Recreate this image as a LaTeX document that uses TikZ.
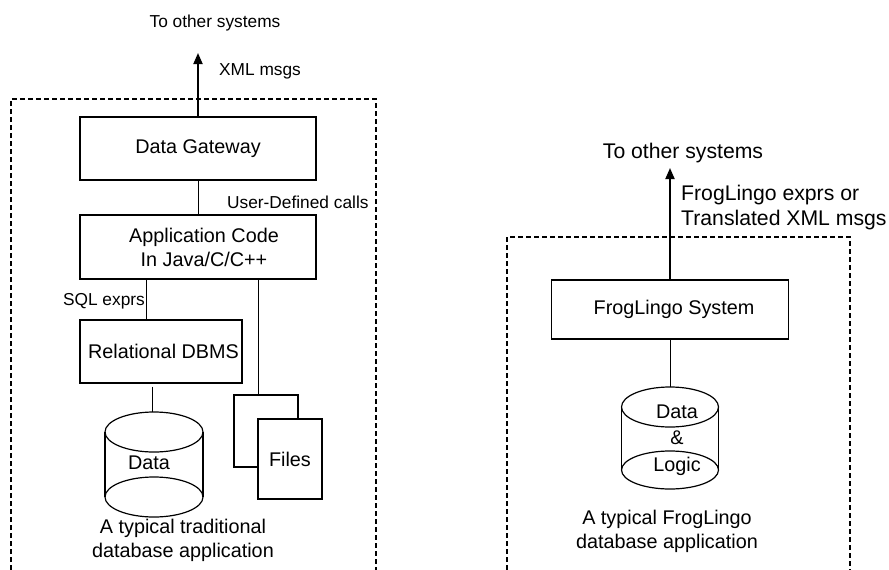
\documentclass[tikz,border=0pt]{standalone}
\usepackage{fontspec}
\setmainfont{Liberation Sans}
\usetikzlibrary{arrows.meta,positioning}

\begin{document}
\begin{tikzpicture}[x=1pt,y=-1pt,
    box/.style={draw,line width=1.2pt,inner sep=0pt,align=center,font=\fontsize{19.8}{24}\selectfont},
    lbl/.style={inner sep=0pt,font=\fontsize{17.3}{21}\selectfont},
    biglbl/.style={inner sep=0pt,align=left,font=\fontsize{21.2}{25}\selectfont},
    captext/.style={inner sep=0pt,align=center,font=\fontsize{19.8}{24}\selectfont},
    link/.style={line width=0.8pt},
    drum/.style={line width=1.2pt},
    outarrow/.style={line width=1.8pt,-{Triangle[width=9pt,length=11pt]}},
    border/.style={line width=1.1pt,dash pattern=on 5pt off 3pt}]
    \useasboundingbox (0,0) rectangle (889,570);

    \draw[border] (11,570) -- (11,99) -- (376,99) -- (376,570);
    \node[box,minimum width=236,minimum height=63] (gw) at (198,148.5) {Data Gateway};
    \node[box,minimum width=236,minimum height=64] (app) at (198,247) {\hspace*{12pt}Application Code\\\hspace*{12pt}In Java/C/C++};
    \node[box,minimum width=162,minimum height=63] (rdbms) at (161,351.5) {\hspace*{5pt}Relational DBMS};
    \node[box,minimum width=64,minimum height=72] (fileb) at (266,431) {};
    \node[box,fill=white,minimum width=64,minimum height=80] (files) at (290,459) {Files};
    \node[captext] (data) at (149,463) {Data};
    \draw[drum] (105,432) -- (105,497) (203,432) -- (203,497);
    \draw[drum] (154,432) ellipse [x radius=49,y radius=20];
    \draw[drum] (154,497) ellipse [x radius=49,y radius=20];

    \coordinate (out1) at (199,53);
    \coordinate (sqlend) at ([xshift=-15pt]rdbms.north);
    \coordinate (fileend) at ([xshift=-8pt]fileb.north);
    \coordinate (datatop) at (152,412);
    \draw[outarrow] (gw.north) -- (gw.north |- out1);
    \draw[link] (gw.south) -- (app.north);
    \draw[link] (sqlend |- app.south) -- (sqlend);
    \draw[link] (fileend |- app.south) -- (fileend);
    \draw[link] ([yshift=-3pt]datatop |- rdbms.south) -- (datatop);

    \node[lbl] (dest1) at (215,23) {To other systems};
    \node[lbl,anchor=west] (xml) at (219,71) {XML msgs};
    \node[lbl,anchor=west] (udc) at (227,202) {User-Defined calls};
    \node[lbl,anchor=east] (sql) at (145,301) {SQL exprs};
    \node[captext] (cap1) at (183,540) {A typical traditional\\database application};

    \draw[border] (507,570) -- (507,237) -- (850,237) -- (850,570);
    \node[box,minimum width=237,minimum height=59] (frog) at (670,309.5) {\hspace*{8pt}FrogLingo System};
    \node[captext,font=\fontsize{19.8}{26.5}\selectfont] (dl) at (677,440) {Data\\\&\\Logic};
    \draw[drum] (621.5,407) -- (621.5,470) (718.5,407) -- (718.5,470);
    \draw[drum] (670,407) ellipse [x radius=48.5,y radius=20];
    \draw[drum] (670,470) ellipse [x radius=48.5,y radius=19];

    \coordinate (out2) at (668,168);
    \coordinate (logictop) at (670,387);
    \draw[outarrow] (frog.north) -- (frog.north |- out2);
    \draw[link] (frog.south) -- (logictop);

    \node[biglbl] (dest2) at (683,153) {To other systems};
    \node[biglbl,anchor=west] (flx) at (681,208) {FrogLingo exprs or\\Translated XML msgs};
    \node[captext] (cap2) at (667,531) {A typical FrogLingo\\database application};
\end{tikzpicture}
\end{document}
